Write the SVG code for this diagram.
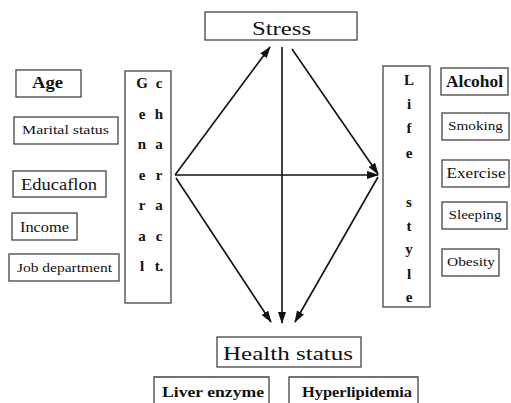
<svg xmlns="http://www.w3.org/2000/svg" width="511" height="403" viewBox="0 0 511 403">
<defs>
<marker id="ah" viewBox="0 0 12 8" refX="11" refY="4" markerWidth="12" markerHeight="8" markerUnits="userSpaceOnUse" orient="auto">
<path d="M0,0 L12,4 L0,8 Z" fill="#111"/>
</marker>
</defs>
<style>
.box{fill:#fff;stroke:#444;stroke-width:1.3}
.t{font-family:"Liberation Serif","DejaVu Serif",serif;fill:#111;text-anchor:middle}
.b{font-weight:bold}
.conn{stroke:#111;stroke-width:1.6;fill:none}
</style>
<rect width="511" height="403" fill="#fff"/>
<g id="connectors">
<line class="conn" x1="175" y1="175" x2="270" y2="47" marker-end="url(#ah)"/>
<line class="conn" x1="282" y1="47" x2="282" y2="323" marker-end="url(#ah)"/>
<line class="conn" x1="292" y1="49" x2="378" y2="174" marker-end="url(#ah)"/>
<line class="conn" x1="175" y1="175" x2="378" y2="175" marker-end="url(#ah)"/>
<line class="conn" x1="176" y1="178" x2="271" y2="322" marker-end="url(#ah)"/>
<line class="conn" x1="378" y1="177" x2="295" y2="322" marker-end="url(#ah)"/>
</g>
<g id="stress"><rect class="box" x="205" y="12" width="152" height="28"/><text class="t" x="281.5" y="35" font-size="19" textLength="59" lengthAdjust="spacingAndGlyphs">Stress</text></g>
<g id="age"><rect class="box" x="16" y="70" width="65" height="27"/><text class="t b" x="47.5" y="88" font-size="16" textLength="31" lengthAdjust="spacingAndGlyphs">Age</text></g>
<g id="marital"><rect class="box" x="14" y="117" width="104" height="27"/><text class="t" x="65.5" y="134" font-size="13" textLength="87" lengthAdjust="spacingAndGlyphs">Marital status</text></g>
<g id="education"><rect class="box" x="13" y="171" width="93" height="26"/><text class="t" x="59" y="190" font-size="17" textLength="76" lengthAdjust="spacingAndGlyphs">Educaflon</text></g>
<g id="income"><rect class="box" x="12" y="213" width="65" height="27"/><text class="t" x="44.5" y="232" font-size="14" textLength="49" lengthAdjust="spacingAndGlyphs">Income</text></g>
<g id="job"><rect class="box" x="9" y="254" width="110" height="27"/><text class="t" x="64.5" y="272" font-size="13" textLength="95" lengthAdjust="spacingAndGlyphs">Job department</text></g>
<g id="general">
<rect class="box" x="125" y="71" width="46" height="232"/>
<g class="t b" font-size="15">
<text x="142" y="88">G</text><text x="159" y="88">c</text>
<text x="142" y="119">e</text><text x="159" y="119">h</text>
<text x="142" y="149">n</text><text x="159" y="149">a</text>
<text x="142" y="180">e</text><text x="159" y="180">r</text>
<text x="142" y="210">r</text><text x="159" y="210">a</text>
<text x="142" y="241">a</text><text x="159" y="241">c</text>
<text x="142" y="271">l</text><text x="159" y="271">t.</text>
</g>
</g>
<g id="lifestyle">
<rect class="box" x="383" y="66" width="47" height="241"/>
<g class="t b" font-size="15">
<text x="409" y="85">L</text>
<text x="409" y="109">i</text>
<text x="409" y="133">f</text>
<text x="409" y="158">e</text>
<text x="409" y="207">s</text>
<text x="409" y="231">t</text>
<text x="409" y="254">y</text>
<text x="409" y="279">l</text>
<text x="409" y="302">e</text>
</g>
</g>
<g id="alcohol"><rect class="box" x="441" y="68" width="67" height="27"/><text class="t b" x="474.5" y="87" font-size="16" textLength="57" lengthAdjust="spacingAndGlyphs">Alcohol</text></g>
<g id="smoking"><rect class="box" x="442" y="113" width="67" height="27"/><text class="t" x="475.5" y="130" font-size="13" textLength="55" lengthAdjust="spacingAndGlyphs">Smoking</text></g>
<g id="exercise"><rect class="box" x="442" y="160" width="67" height="27"/><text class="t" x="476" y="178" font-size="14" textLength="59" lengthAdjust="spacingAndGlyphs">Exercise</text></g>
<g id="sleeping"><rect class="box" x="442" y="202" width="65" height="27"/><text class="t" x="475" y="219" font-size="13" textLength="53" lengthAdjust="spacingAndGlyphs">Sleeping</text></g>
<g id="obesity"><rect class="box" x="442" y="249" width="57" height="27"/><text class="t" x="471" y="266" font-size="13" textLength="48" lengthAdjust="spacingAndGlyphs">Obesity</text></g>
<g id="health"><rect class="box" x="217" y="337" width="144" height="30"/><text class="t" x="288" y="360" font-size="19" textLength="130" lengthAdjust="spacingAndGlyphs">Health status</text></g>
<g id="liver"><path class="box" d="M154,404 V377 H269 V404"/><text class="t b" x="213" y="397" font-size="14" textLength="102" lengthAdjust="spacingAndGlyphs">Liver enzyme</text></g>
<g id="hyper"><path class="box" d="M289,404 V377 H418 V404"/><text class="t b" x="357" y="397" font-size="14" textLength="110" lengthAdjust="spacingAndGlyphs">Hyperlipidemia</text></g>
</svg>
